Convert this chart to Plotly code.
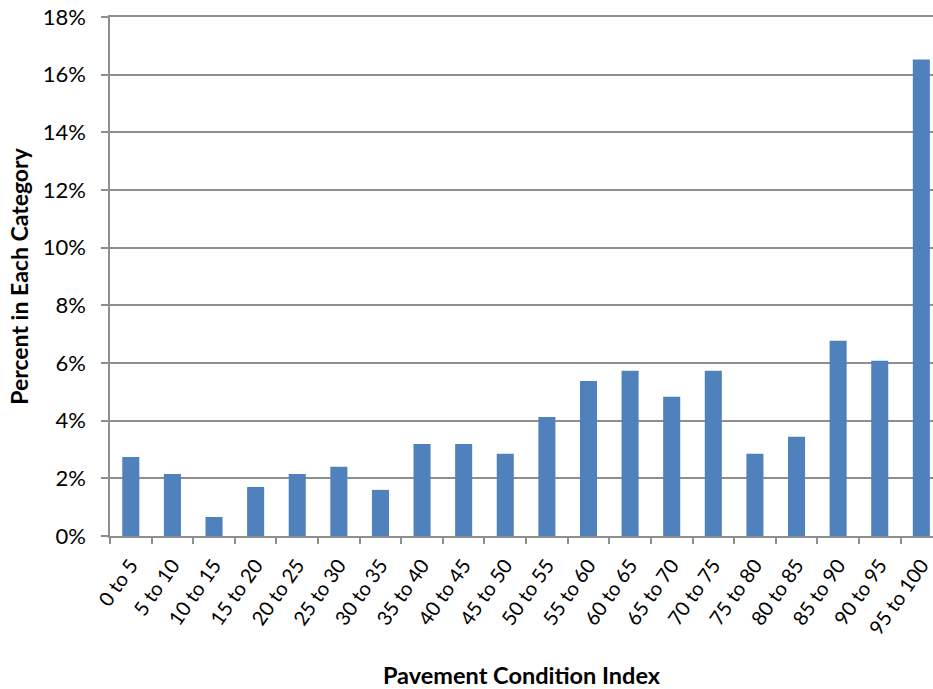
import plotly.graph_objects as go

categories = ["0 to 5", "5 to 10", "10 to 15", "15 to 20", "20 to 25", "25 to 30",
              "30 to 35", "35 to 40", "40 to 45", "45 to 50", "50 to 55", "55 to 60",
              "60 to 65", "65 to 70", "70 to 75", "75 to 80", "80 to 85", "85 to 90",
              "90 to 95", "95 to 100"]
percent = [2.74, 2.15, 0.66, 1.70, 2.15, 2.40, 1.60, 3.19, 3.19, 2.85,
           4.13, 5.38, 5.73, 4.83, 5.73, 2.85, 3.44, 6.77, 6.08, 16.53]
y_ticks = [0, 2, 4, 6, 8, 10, 12, 14, 16, 18]

FONT = "Lato, Carlito, Calibri, 'Open Sans', sans-serif"
GRID = "#8E8E8E"

fig = go.Figure(go.Bar(x=categories, y=percent, marker=dict(color="#4F81BD", line=dict(width=0))))

fig.update_layout(
    width=933, height=689,
    margin=dict(l=110, r=0, t=17, b=153),
    paper_bgcolor="white", plot_bgcolor="white",
    bargap=0.59,
    font=dict(family=FONT, size=20, color="#000000"),
    showlegend=False,
)
fig.update_xaxes(
    type="category",
    range=[-0.5, 19.28],
    tickangle=-55,
    tickson="boundaries",
    ticks="outside", ticklen=6, tickcolor=GRID, tickwidth=1.5,
    showline=True, linecolor=GRID, linewidth=1.5, mirror=True,
    showgrid=False,
    automargin=False,
    ticklabelstandoff=8,
    tickfont=dict(size=20),
    title=dict(text="<b>Pavement Condition Index</b>", font=dict(size=23.5), standoff=30),
)
fig.update_yaxes(
    range=[0, 18],
    tickvals=y_ticks,
    ticktext=[f"{v}%" for v in y_ticks],
    ticks="outside", ticklen=7, tickcolor=GRID, tickwidth=1.5,
    showline=True, linecolor=GRID, linewidth=1.5,
    showgrid=True, gridcolor=GRID, gridwidth=1.5,
    zeroline=False,
    automargin=False,
    ticklabelstandoff=11,
    tickfont=dict(size=22),
    title=dict(text="<b>Percent in Each Category</b>", font=dict(size=23), standoff=8),
)

fig.write_html("out.html", config={"displayModeBar": False},
               post_script="document.body.style.margin='0';")
